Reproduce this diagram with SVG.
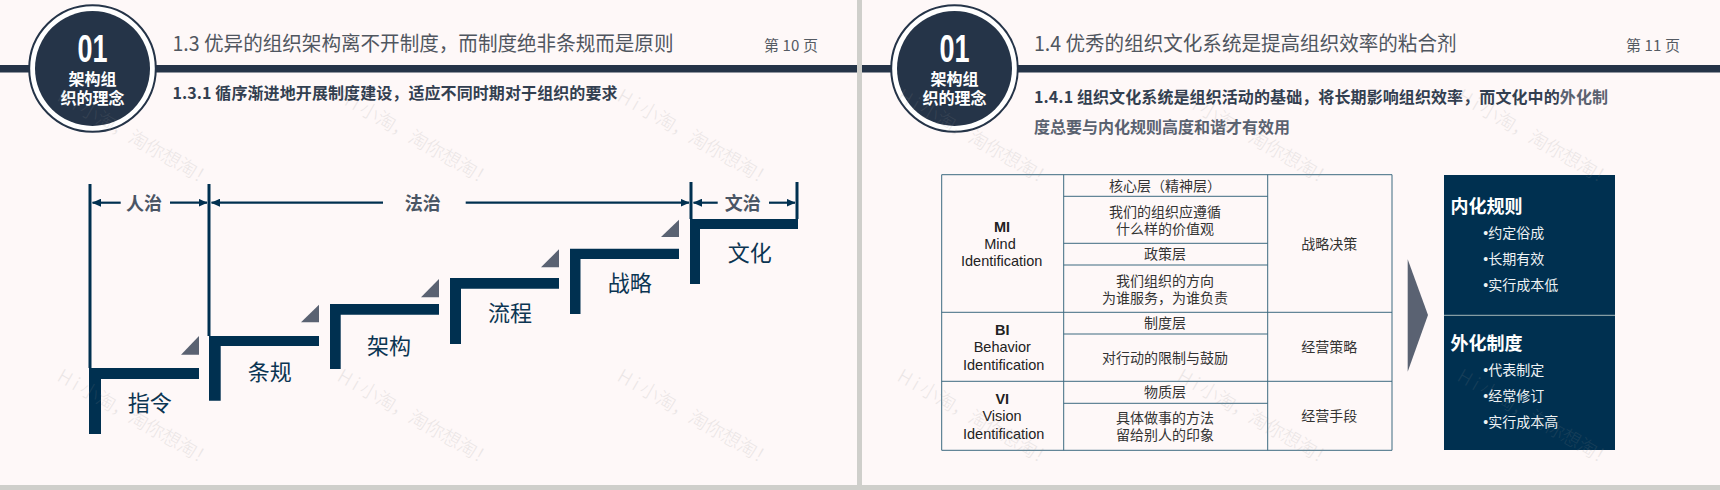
<svg xmlns="http://www.w3.org/2000/svg" width="1720" height="490" viewBox="0 0 1720 490">
<style>
text{font-family:"Noto Sans CJK SC","Liberation Sans",sans-serif}
.bar{fill:#253448}
.title{font-size:20px;fill:#50565f}
.page{font-size:15px;fill:#555b63}
.sub{font-size:16px;font-weight:700;fill:#333f50}
.gray{fill:#5a6270}
.hw{fill:#fff;font-weight:700;font-size:16px;text-anchor:middle}
.step{fill:#003050}
.tri{fill:#5a6272}
.stl{font-size:22px;fill:#0b3552;text-anchor:middle;dominant-baseline:central}
.era{font-size:18px;font-weight:700;fill:#4a5564;text-anchor:middle;dominant-baseline:central}
.vl{stroke:#003050;stroke-width:3;fill:none}
.ar{stroke:#003050;stroke-width:2.2;fill:none}
.cell{stroke:#3d6a80;stroke-width:1;fill:none}
.c{font-size:14px;fill:#333;text-anchor:middle;dominant-baseline:central}
.l{font-family:"Liberation Sans",sans-serif;font-size:14.500px;fill:#222;text-anchor:middle;dominant-baseline:central}
.bh{font-size:18px;font-weight:700;fill:#fff;dominant-baseline:central}
.bl{font-family:"Liberation Sans","Noto Sans CJK SC",sans-serif;font-size:14px;fill:#eef2f4;dominant-baseline:central}
.wm{font-size:19px;font-weight:300;fill:#8a8a8a;opacity:.16}
</style>
<defs>
<marker id="ah" markerUnits="userSpaceOnUse" markerWidth="9" markerHeight="8" refX="8.500" refY="4" orient="auto-start-reverse"><path d="M0 0L9 4L0 8Z" fill="#003050"/></marker>
<g id="badge">
<circle cx="92.500" cy="68.500" r="63.300" fill="#fff" stroke="#253448" stroke-width="2"/>
<circle cx="92.500" cy="68.500" r="57.500" fill="#253448"/>
<text x="92.500" y="62" text-anchor="middle" font-size="38" font-weight="700" fill="#fff" style="font-family:'Liberation Sans',sans-serif" textLength="30" lengthAdjust="spacingAndGlyphs">01</text>
<text class="hw" x="92.500" y="85">架构组</text>
<text class="hw" x="92.500" y="104">织的理念</text>
</g>
</defs>
<rect width="1720" height="490" fill="#fef8f8"/>
<rect x="857" y="0" width="5" height="490" fill="#cfcfcb"/>
<rect x="0" y="485" width="1720" height="5" fill="#cfcfcb"/>

<g id="slide1-header">
<rect class="bar" x="0" y="65" width="857" height="7.500"/>
<use href="#badge"/>
<text class="title" x="172.500" y="51" textLength="501" lengthAdjust="spacingAndGlyphs">1.3 优异的组织架构离不开制度，而制度绝非条规而是原则</text>
<text class="page" x="764" y="50.500" textLength="54" lengthAdjust="spacing">第 10 页</text>
<text class="sub" x="172.500" y="98.500" textLength="445" lengthAdjust="spacing">1.3.1 循序渐进地开展制度建设，适应不同时期对于组织的要求</text>
</g>

<g id="connectors">
<path class="vl" d="M90 184V368M209 184V336M691 182V219M797 182V219"/>
<path class="ar" marker-start="url(#ah)" d="M92.500 202.700H120.700"/>
<path class="ar" marker-end="url(#ah)" d="M170 202.700H207"/>
<path class="ar" marker-start="url(#ah)" d="M211.500 202.700H383"/>
<path class="ar" marker-end="url(#ah)" d="M465.700 202.700H689"/>
<path class="ar" marker-start="url(#ah)" d="M693.500 202.700H717.700"/>
<path class="ar" marker-end="url(#ah)" d="M769 202.700H795"/>
</g>
<g id="era-renzhi"><text class="era" x="144" y="201.500">人治</text></g>
<g id="era-fazhi"><text class="era" x="422.700" y="201.500">法治</text></g>
<g id="era-wenzhi"><text class="era" x="742.700" y="201.500">文治</text></g>

<g id="step-zhiling"><path class="step" d="M89 368H199V379H101V434H89Z"/><path class="tri" d="M199 336V354.700H181Z"/><text class="stl" x="149.700" y="401">指令</text></g>
<g id="step-tiaogui"><path class="step" d="M209 336H319V346H220.700V400.700H209Z"/><path class="tri" d="M319 304.700V322.300H301Z"/><text class="stl" x="269.700" y="370.300">条规</text></g>
<g id="step-jiagou"><path class="step" d="M330 304H439V314.700H340.700V369H330Z"/><path class="tri" d="M439 279V297.300H421Z"/><text class="stl" x="389" y="344.300">架构</text></g>
<g id="step-liucheng"><path class="step" d="M450 278H559V288.700H461V344H450Z"/><path class="tri" d="M559 249.300V267.300H541Z"/><text class="stl" x="510" y="311.300">流程</text></g>
<g id="step-zhanlue"><path class="step" d="M570 248.700H679V259H580.500V314H570Z"/><path class="tri" d="M679 219.700V237H661Z"/><text class="stl" x="629.700" y="281">战略</text></g>
<g id="step-wenhua"><path class="step" d="M690 219H798V229H700V284H690Z"/><text class="stl" x="749.700" y="251.300">文化</text></g>

<g id="slide2-header">
<rect class="bar" x="862" y="65" width="858" height="7.500"/>
<use href="#badge" x="862"/>
<text class="title" x="1034" y="51" textLength="422.500" lengthAdjust="spacingAndGlyphs">1.4 优秀的组织文化系统是提高组织效率的粘合剂</text>
<text class="page" x="1626" y="50.500" textLength="54" lengthAdjust="spacing">第 11 页</text>
<text class="sub" x="1034" y="102.500" textLength="574" lengthAdjust="spacing">1.4.1 组织文化系统是组织活动的基础，将长期影响组织效率，而文化中的<tspan class="gray">外化制</tspan></text>
<text class="sub gray" x="1034" y="132.500">度总要与内化规则高度和谐才有效用</text>
</g>

<g id="table">
<path class="cell" d="M941.700 174.700H1392V450.300H941.700ZM1063.700 174.700V450.300M1267.700 174.700V450.300M941.700 312.300H1392M941.700 381.300H1392M1063.700 196.300H1267.700M1063.700 243.300H1267.700M1063.700 265H1267.700M1063.700 334H1267.700M1063.700 403.300H1267.700"/>
</g>
<g id="cell-mi"><text class="l" x="1002" y="227" font-weight="700">MI</text><text class="l" x="1000" y="244">Mind</text><text class="l" x="1001.700" y="261.300">Identification</text></g>
<g id="cell-bi"><text class="l" x="1002.300" y="330.300" font-weight="700">BI</text><text class="l" x="1002.300" y="347.300">Behavior</text><text class="l" x="1003.700" y="365">Identification</text></g>
<g id="cell-vi"><text class="l" x="1002.300" y="399.300" font-weight="700">VI</text><text class="l" x="1002" y="416">Vision</text><text class="l" x="1003.700" y="433.700">Identification</text></g>
<g id="cell-core"><text class="c" x="1165" y="185.300">核心层（精神层）</text></g>
<g id="cell-values"><text class="c" x="1165" y="210.800">我们的组织应遵循</text><text class="c" x="1165" y="227.800">什么样的价值观</text></g>
<g id="cell-policy"><text class="c" x="1165" y="252.800">政策层</text></g>
<g id="cell-direction"><text class="c" x="1165" y="279.500">我们组织的方向</text><text class="c" x="1165" y="296.500">为谁服务，为谁负责</text></g>
<g id="cell-system"><text class="c" x="1165" y="321.800">制度层</text></g>
<g id="cell-limit"><text class="c" x="1165" y="356.500">对行动的限制与鼓励</text></g>
<g id="cell-material"><text class="c" x="1165" y="390.800">物质层</text></g>
<g id="cell-impress"><text class="c" x="1165" y="416.800">具体做事的方法</text><text class="c" x="1165" y="433.800">留给别人的印象</text></g>
<g id="cell-strategy"><text class="c" x="1329.300" y="242.800">战略决策</text></g>
<g id="cell-tactic"><text class="c" x="1329.300" y="345.500">经营策略</text></g>
<g id="cell-means"><text class="c" x="1329.300" y="414.500">经营手段</text></g>

<g id="big-arrow"><path class="tri" d="M1407.700 259.300L1428 315L1407.700 371.700Z"/></g>
<g id="rules-box">
<rect x="1444" y="175" width="171" height="275" fill="#003050"/>
<path d="M1444 315.300H1615" stroke="#a5b8b8" stroke-width="1"/>
<text class="bh" x="1450.500" y="205">内化规则</text>
<text class="bl" x="1483.300" y="232.800">•约定俗成</text>
<text class="bl" x="1483.300" y="259.200">•长期有效</text>
<text class="bl" x="1483.300" y="284.800">•实行成本低</text>
<text class="bh" x="1450.500" y="342.300">外化制度</text>
<text class="bl" x="1483.300" y="370.200">•代表制定</text>
<text class="bl" x="1483.300" y="396.200">•经常修订</text>
<text class="bl" x="1483.300" y="422.200">•实行成本高</text>
</g>

<g id="watermarks">
<text class="wm" transform="translate(56 380) rotate(30)" textLength="176">H i 小淘，淘你想淘！</text>
<text class="wm" transform="translate(336 380) rotate(30)" textLength="176">H i 小淘，淘你想淘！</text>
<text class="wm" transform="translate(616 380) rotate(30)" textLength="176">H i 小淘，淘你想淘！</text>
<text class="wm" transform="translate(896 380) rotate(30)" textLength="176">H i 小淘，淘你想淘！</text>
<text class="wm" transform="translate(1176 380) rotate(30)" textLength="176">H i 小淘，淘你想淘！</text>
<text class="wm" transform="translate(1456 380) rotate(30)" textLength="176">H i 小淘，淘你想淘！</text>
<text class="wm" transform="translate(56 100) rotate(30)" textLength="176">H i 小淘，淘你想淘！</text>
<text class="wm" transform="translate(336 100) rotate(30)" textLength="176">H i 小淘，淘你想淘！</text>
<text class="wm" transform="translate(616 100) rotate(30)" textLength="176">H i 小淘，淘你想淘！</text>
<text class="wm" transform="translate(896 100) rotate(30)" textLength="176">H i 小淘，淘你想淘！</text>
<text class="wm" transform="translate(1176 100) rotate(30)" textLength="176">H i 小淘，淘你想淘！</text>
<text class="wm" transform="translate(1456 100) rotate(30)" textLength="176">H i 小淘，淘你想淘！</text>
</g>
</svg>
